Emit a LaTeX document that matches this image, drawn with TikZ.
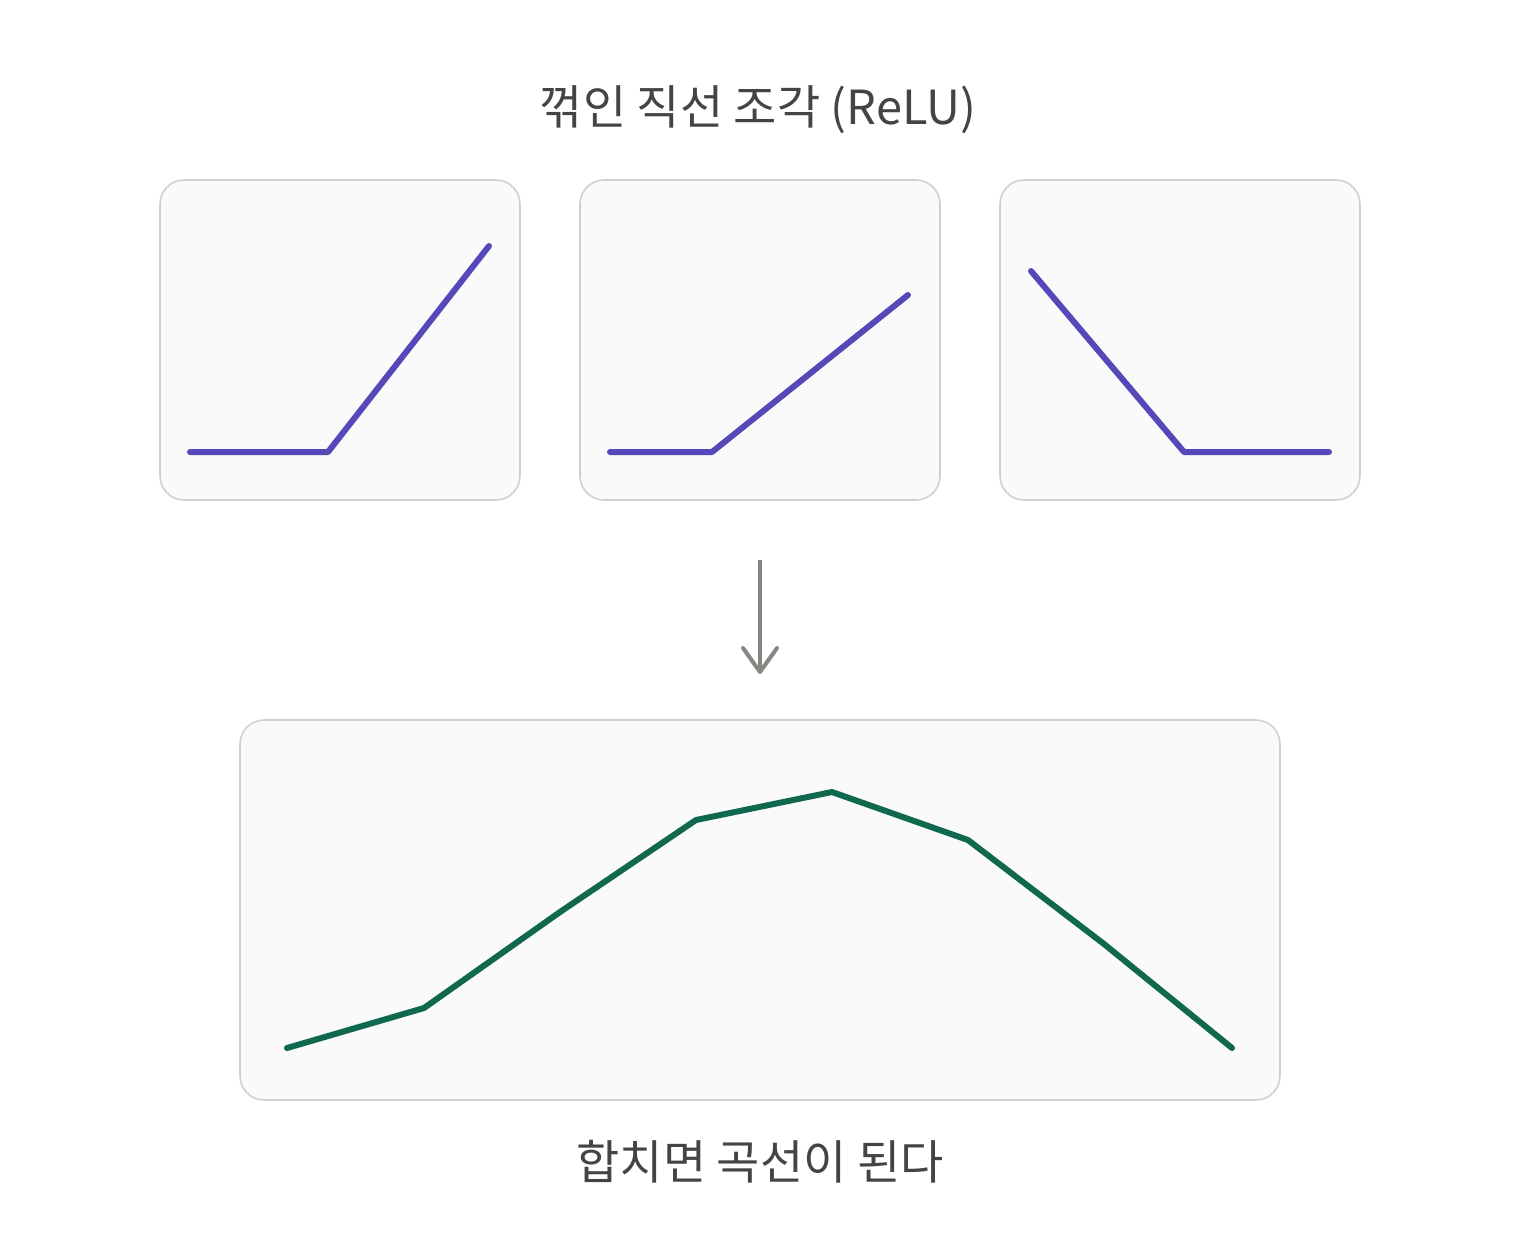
\documentclass[tikz,border=0pt]{standalone}
\usepackage{fontspec}
\setmainfont{Noto Sans CJK KR}
\usetikzlibrary{arrows.meta}
\definecolor{txt}{HTML}{444444}
\definecolor{boxfill}{HTML}{FAFAFA}
\definecolor{boxline}{HTML}{D0D0D0}
\definecolor{relu}{HTML}{5548B8}
\definecolor{curve}{HTML}{10694F}
\definecolor{arrowc}{HTML}{878680}
\tikzset{
  panel/.style={draw=boxline, fill=boxfill, line width=1.6pt, rounded corners=24pt, inner sep=0pt},
  label/.style={text=txt, font=\fontsize{47}{56}\selectfont, inner sep=0pt},
  reluline/.style={draw=relu, line width=6pt, line cap=round, line join=round},
  curveline/.style={draw=curve, line width=6pt, line cap=round, line join=round},
  flow/.style={draw=arrowc, line width=4pt, -{Straight Barb[length=24pt, width=34pt, round, line width=4pt]}}
}
\begin{document}
\begin{tikzpicture}[x=1pt,y=-1pt]
\useasboundingbox (0,0) rectangle (1520,1240);
\fill[white] (0,0) rectangle (1520,1240);
\node[label] (title) at (758,110) {꺾인 직선 조각 (ReLU)};
\node[panel, minimum width=360pt, minimum height=320pt] (p1) at (340,340) {};
\node[panel, minimum width=360pt, minimum height=320pt] (p2) at (760,340) {};
\node[panel, minimum width=360pt, minimum height=320pt] (p3) at (1180,340) {};
\node[panel, minimum width=1040pt, minimum height=380pt] (sum) at (760,910) {};
\node[label] (caption) at (760,1162) {합치면 곡선이 된다};
\draw[reluline] (190,452) -- (328,452) -- (489,246);
\draw[reluline] (610,452) -- (712,452) -- (908,295);
\draw[reluline] (1031,271) -- (1184,452) -- (1329,452);
\draw[curveline] (287,1048) -- (424,1008) -- (560,912) -- (696,820) -- (832,792) -- (968,840) -- (1104,944) -- (1232,1048);
\coordinate (a1) at (760,560);
\coordinate (a2) at (760,674);
\draw[flow] (a1) -- (a2);
\end{tikzpicture}
\end{document}
